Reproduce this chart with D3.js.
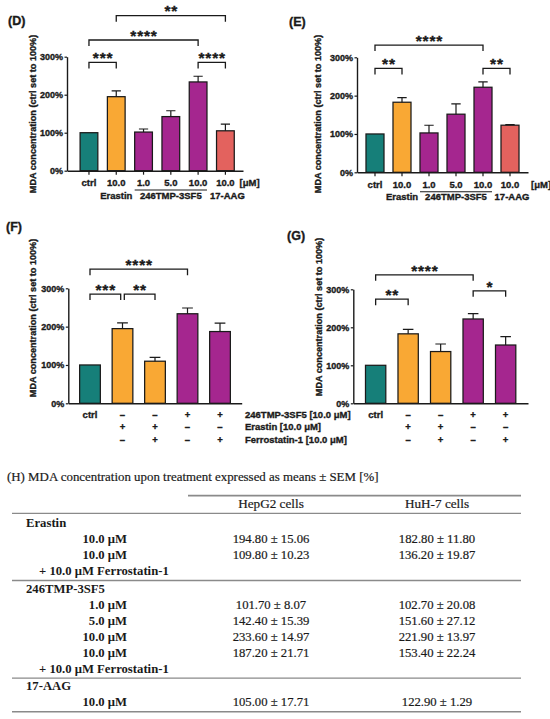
<!DOCTYPE html>
<html><head><meta charset="utf-8">
<script src="https://cdn.jsdelivr.net/npm/d3@7"></script>
<style>body{margin:0;background:#fff} svg{display:block}
.heavy{paint-order:stroke;stroke:#1a1a1a;stroke-width:0.35px}
.sheavy{paint-order:stroke;stroke:#1a1a1a;stroke-width:0.2px}
</style>
</head><body><svg id="c" width="550" height="719"></svg>
<script>
// ---------- data ----------
const doseLabels = ["ctrl", "10.0", "1.0", "5.0", "10.0", "10.0"];
const doseKinds = ["ctrl", "erastin", "tmp", "tmp", "tmp", "aag"];
const doseGroups = ["Erastin", "246TMP-3SF5", "17-AAG"];
const hepg2Dose = [100, 194.80, 101.70, 142.40, 233.60, 105.00];
const hepg2DoseSem = [0, 15.06, 8.07, 15.39, 14.97, 17.71];
const huh7Dose = [100, 182.80, 102.70, 151.60, 221.90, 122.90];
const huh7DoseSem = [0, 11.80, 20.08, 27.12, 13.97, 1.29];

const ferroKinds = ["ctrl", "erastin", "erastin", "tmp", "tmp"];
const ferroRowNames = ["246TMP-3SF5 [10.0 μM]", "Erastin [10.0 μM]", "Ferrostatin-1 [10.0 μM]"];
const ferroRowTMP = ["ctrl", "–", "–", "+", "+"];
const ferroRowErastin = ["", "+", "+", "–", "–"];
const ferroRowFerro = ["", "–", "+", "–", "+"];
const hepg2Ferro = [100, 194.80, 109.80, 233.60, 187.20];
const hepg2FerroSem = [0, 15.06, 10.23, 14.97, 21.71];
const huh7Ferro = [100, 182.80, 136.20, 221.90, 153.40];
const huh7FerroSem = [0, 11.80, 19.87, 13.97, 22.24];

const yTicks = [0, 100, 200, 300];
// significance brackets: [from index, to index, stars, bracket level in %]
const sigD = [[0, 1, "***", 285], [4, 5, "****", 285], [0, 4, "****", 344], [1, 5, "**", 408]];
const sigE = [[0, 1, "**", 271], [4, 5, "**", 271], [0, 4, "****", 332]];
const sigF = [[0, 1, "***", 285], [1, 2, "**", 285], [0, 3, "****", 350]];
const sigG = [[0, 1, "**", 274], [3, 4, "*", 296], [0, 3, "****", 338]];

const tableTitle = "(H) MDA concentration upon treatment expressed as means ± SEM [%]";
const tableHeaders = ["HepG2 cells", "HuH-7 cells"];

const colors = {ctrl: "#167f79", erastin: "#f9a834", tmp: "#a5268f", aag: "#e3625e"};

// ---------- drawing ----------
const svg = d3.select("#c");
const SANS = "'Liberation Sans', Arial, sans-serif";
const SERIF = "'Liberation Serif', 'Times New Roman', serif";
const INK = "#1a1a1a";

function drawPanel(p) {
  const g = svg.append("g");
  const n = p.values.length;
  const x = d3.scaleBand().domain(d3.range(n)).range([p.x0, p.x1])
    .paddingInner(p.pi).paddingOuter(p.po).align(p.align);
  const y = d3.scaleLinear().domain([0, 300]).range([p.yb, p.yt]);
  const bw = x.bandwidth();
  const cx = i => x(i) + bw / 2;

  // bars
  g.selectAll("rect.bar").data(p.values).join("rect")
    .attr("x", (d, i) => x(i)).attr("y", d => y(d))
    .attr("width", bw).attr("height", d => y(0) - y(d))
    .attr("fill", (d, i) => colors[p.kinds[i]])
    .attr("stroke", INK).attr("stroke-width", 1.25);

  // error bars (upper)
  const eg = g.append("g").attr("stroke", INK).attr("stroke-width", 1.2).attr("fill", "none");
  p.values.forEach((v, i) => {
    const s = p.sems[i];
    if (!s) return;
    const top = y(v + s);
    eg.append("path").attr("d", `M${cx(i)},${y(v)}V${top}M${cx(i) - bw * 0.26},${top}H${cx(i) + bw * 0.26}`);
  });

  // y axis
  const ya = g.append("g").attr("transform", `translate(${p.x0},0)`)
    .call(d3.axisLeft(y).tickValues(yTicks).tickFormat(d => d + "%").tickSize(2.5).tickSizeOuter(0).tickPadding(1.5));
  ya.select(".domain").attr("stroke", INK).attr("stroke-width", 1.4);
  ya.selectAll(".tick line").attr("stroke", INK).attr("stroke-width", 1.2);
  ya.selectAll("text").attr("class", "heavy").attr("font-family", SANS).attr("font-weight", "bold")
    .attr("font-size", 9).attr("fill", INK);

  // x axis
  const xa = g.append("g").attr("transform", `translate(0,${y(0)})`)
    .call(d3.axisBottom(x).tickSize(p.xTick).tickSizeOuter(0).tickFormat((d, i) => p.tickLabels[i]));
  xa.select(".domain").attr("stroke", INK).attr("stroke-width", 1.4);
  xa.selectAll(".tick line").attr("stroke", INK).attr("stroke-width", 1.2);
  xa.selectAll("text").attr("class", "heavy").attr("font-family", SANS).attr("font-weight", "bold")
    .attr("font-size", 9.5).attr("fill", INK).attr("dy", null).attr("y", p.labelOff);

  // brackets
  const bg = g.append("g");
  p.sig.forEach(([a, b, stars, lvl]) => {
    const ly = y(lvl);
    let xa1 = cx(a), xb1 = cx(b);
    if (p.sig.some(o => o[3] === lvl && o[1] === a)) xa1 += 1.8;
    if (p.sig.some(o => o[3] === lvl && o[0] === b)) xb1 -= 1.8;
    bg.append("path").attr("d", `M${xa1},${ly + 6}V${ly}H${xb1}V${ly + 6}`)
      .attr("fill", "none").attr("stroke", INK).attr("stroke-width", 1.3);
    bg.append("text").attr("class", "heavy").attr("x", (xa1 + xb1) / 2 + 0.45).attr("y", ly + 0.8)
      .attr("text-anchor", "middle").attr("font-family", SANS).attr("font-weight", "bold")
      .attr("font-size", 15.5).attr("letter-spacing", 0.8).attr("fill", INK).text(stars);
  });

  // y title
  g.append("text").attr("class", "heavy").attr("transform", `translate(${p.titleX},${p.titleY}) rotate(-90)`)
    .attr("dy", "0.35em").attr("text-anchor", "middle").attr("font-family", SANS)
    .attr("font-weight", "bold").attr("font-size", 9.1).attr("fill", INK)
    .text("MDA concentration (ctrl set to 100%)");

  // panel letter
  g.append("text").attr("class", "heavy").attr("x", p.letterX).attr("y", p.letterY).attr("font-family", SANS)
    .attr("font-weight", "bold").attr("font-size", 12.5).attr("fill", INK).text(p.letter);

  return {x, y, g, cx, bw};
}

function sansText(g, xx, yy, s, anchor) {
  return g.append("text").attr("class", "heavy").attr("x", xx).attr("y", yy)
    .attr("text-anchor", anchor || "middle").attr("font-family", SANS).attr("font-weight", "bold")
    .attr("font-size", 9.5).attr("fill", INK).text(s);
}

function doseExtras(r, unitX, unitY, groupY, lineY) {
  sansText(r.g, unitX, unitY, "[μM]", "start");
  sansText(r.g, r.cx(1), groupY, doseGroups[0]);
  sansText(r.g, (r.cx(2) + r.cx(4)) / 2, groupY, doseGroups[1]);
  sansText(r.g, r.cx(5) + 2, groupY, doseGroups[2]);
  r.g.append("path").attr("d", `M${r.x(2)},${lineY}H${r.x(4) + r.bw}`)
    .attr("stroke", INK).attr("stroke-width", 1.1);
}

function ferroExtras(r, baseRow1, step, withNames) {
  [ferroRowErastin, ferroRowFerro].forEach((row, k) => {
    row.forEach((s, i) => { if (s) sansText(r.g, r.cx(i), baseRow1 + step * (k + 1), s); });
  });
  if (withNames) ferroRowNames.forEach((s, k) => sansText(r.g, 245, baseRow1 + step * k, s, "start"));
}

// Panel D
const rD = drawPanel({values: hepg2Dose, sems: hepg2DoseSem, kinds: doseKinds, tickLabels: doseLabels, sig: sigD,
  x0: 67, x1: 243, pi: 0.35, po: 0.4, align: 0.6, yb: 170.7, yt: 56.7, xTick: 4, labelOff: 15.5,
  titleX: 33, titleY: 114, letter: "(D)", letterX: 8, letterY: 24.5});
doseExtras(rD, 239.5, 186.2, 198.6, 190);

// Panel E
const rE = drawPanel({values: huh7Dose, sems: huh7DoseSem, kinds: doseKinds, tickLabels: doseLabels, sig: sigE,
  x0: 357, x1: 528, pi: 0.333, po: 0.333, align: 0.5, yb: 172.3, yt: 57.3, xTick: 4, labelOff: 15.5,
  titleX: 318, titleY: 114, letter: "(E)", letterX: 289, letterY: 25.5});
doseExtras(rE, 531, 187.8, 200.2, 191.7);

// Panel F
const rF = drawPanel({values: hepg2Ferro, sems: hepg2FerroSem, kinds: ferroKinds, tickLabels: ferroRowTMP, sig: sigF,
  x0: 68.3, x1: 241.7, pi: 0.363, po: 0.349, align: 0.5, yb: 403.3, yt: 288.3, xTick: 0, labelOff: 14.3,
  titleX: 33, titleY: 318, letter: "(F)", letterX: 6, letterY: 230.5});
ferroExtras(rF, 417.6, 12.5, true);

// Panel G
const rG = drawPanel({values: huh7Ferro, sems: huh7FerroSem, kinds: ferroKinds, tickLabels: ferroRowTMP, sig: sigG,
  x0: 353.3, x1: 528, pi: 0.375, po: 0.375, align: 0.5, yb: 403.3, yt: 289.3, xTick: 0, labelOff: 14.3,
  titleX: 319, titleY: 317, letter: "(G)", letterX: 287, letterY: 239.5});
ferroExtras(rG, 417.6, 12.5, false);

// ---------- table (H) ----------
const fmt = (m, s) => m.toFixed(2) + " ± " + s.toFixed(2);
const tableRows = [
  {group: "Erastin"},
  {label: "10.0 μM", hep: fmt(hepg2Dose[1], hepg2DoseSem[1]), huh: fmt(huh7Dose[1], huh7DoseSem[1])},
  {label: "10.0 μM", hep: fmt(hepg2Ferro[2], hepg2FerroSem[2]), huh: fmt(huh7Ferro[2], huh7FerroSem[2])},
  {note: "+ 10.0 μM Ferrostatin-1"},
  {rule: true},
  {group: "246TMP-3SF5"},
  {label: "1.0 μM", hep: fmt(hepg2Dose[2], hepg2DoseSem[2]), huh: fmt(huh7Dose[2], huh7DoseSem[2])},
  {label: "5.0 μM", hep: fmt(hepg2Dose[3], hepg2DoseSem[3]), huh: fmt(huh7Dose[3], huh7DoseSem[3])},
  {label: "10.0 μM", hep: fmt(hepg2Dose[4], hepg2DoseSem[4]), huh: fmt(huh7Dose[4], huh7DoseSem[4])},
  {label: "10.0 μM", hep: fmt(hepg2Ferro[4], hepg2FerroSem[4]), huh: fmt(huh7Ferro[4], huh7FerroSem[4])},
  {note: "+ 10.0 μM Ferrostatin-1"},
  {rule: true},
  {group: "17-AAG"},
  {label: "10.0 μM", hep: fmt(hepg2Dose[5], hepg2DoseSem[5]), huh: fmt(huh7Dose[5], huh7DoseSem[5])},
  {rule: true}
];

const tg = svg.append("g");
const colX = [271, 437];
const ruleColor = "#8a8a8a";
tg.append("text").attr("class", "sheavy").attr("x", 7).attr("y", 480.6).attr("font-family", SERIF)
  .attr("font-size", 12.9).attr("fill", INK).text(tableTitle);
tg.append("line").attr("x1", 188).attr("x2", 521).attr("y1", 495.7).attr("y2", 495.7)
  .attr("stroke", ruleColor).attr("stroke-width", 1.7);
tableHeaders.forEach((h, i) => tg.append("text").attr("class", "sheavy").attr("x", colX[i]).attr("y", 508.3)
  .attr("text-anchor", "middle").attr("font-family", SERIF).attr("font-size", 13.2).attr("fill", INK).text(h));
tg.append("line").attr("x1", 12).attr("x2", 521).attr("y1", 513.3).attr("y2", 513.3)
  .attr("stroke", ruleColor).attr("stroke-width", 1.3);

let yy = 513.3 + 13.6;
tableRows.forEach((r, k) => {
  if (r.rule) {
    const ry = yy - 16 + 5.6;
    tg.append("line").attr("x1", 12).attr("x2", 521).attr("y1", ry).attr("y2", ry)
      .attr("stroke", ruleColor).attr("stroke-width", k === tableRows.length - 1 ? 1.6 : 1.3);
    yy = ry + 12;
    return;
  }
  if (r.group) {
    tg.append("text").attr("x", 26).attr("y", yy).attr("font-family", SERIF).attr("font-weight", "bold")
      .attr("font-size", 12.7).attr("fill", INK).text(r.group);
  } else if (r.note) {
    tg.append("text").attr("x", 39).attr("y", yy).attr("font-family", SERIF).attr("font-weight", "bold")
      .attr("font-size", 12.7).attr("fill", INK).text(r.note);
  } else {
    tg.append("text").attr("x", 127).attr("y", yy).attr("text-anchor", "end").attr("font-family", SERIF)
      .attr("font-weight", "bold").attr("font-size", 12.7).attr("fill", INK).text(r.label);
    [r.hep, r.huh].forEach((v, i) => tg.append("text").attr("class", "sheavy").attr("x", colX[i]).attr("y", yy)
      .attr("text-anchor", "middle").attr("font-family", SERIF).attr("font-size", 12.7)
      .attr("fill", INK).text(v));
  }
  yy += 16;
});
</script></body></html>
